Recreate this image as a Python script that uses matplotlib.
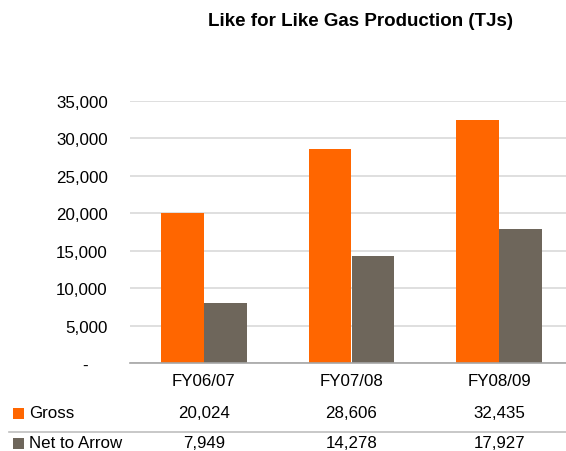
import matplotlib
matplotlib.use("Agg")
import matplotlib.pyplot as plt
from matplotlib.transforms import blended_transform_factory
from matplotlib.lines import Line2D
from matplotlib.patches import Rectangle
import numpy as np

categories = ["FY06/07", "FY07/08", "FY08/09"]
gross = [20024, 28606, 32435]
net_to_arrow = [7949, 14278, 17927]
series_names = ["Gross", "Net to Arrow"]
yticks = [0, 5000, 10000, 15000, 20000, 25000, 30000, 35000]
title = "Like for Like Gas Production (TJs)"

c_gross = "#FF6600"
c_net = "#6E665B"

plt.rcParams['font.family'] = ['Liberation Sans', 'DejaVu Sans']

W, H = 566, 452
fig = plt.figure(figsize=(W / 100, H / 100), dpi=100)

def fy(py):
    return 1 - py / H

left_px, right_px, top_px, bot_px = 130, 573, 102, 364
ax = fig.add_axes([left_px / W, fy(bot_px), (right_px - left_px) / W, (bot_px - top_px) / H])

x = np.arange(len(categories))
bw = 0.29
ax.bar(x - bw / 2, gross, width=bw, color=c_gross, zorder=3)
ax.bar(x + bw / 2, net_to_arrow, width=bw, color=c_net, zorder=3)

ax.set_xlim(-0.5, len(categories) - 0.5)
ax.set_ylim(0, 35000)
ax.set_yticks(yticks)
ax.set_yticklabels(["-    " if v == 0 else f"{v:,}" for v in yticks], fontsize=12.2)
ax.tick_params(axis='y', length=0, pad=16)
ax.set_xticks([])

ax.grid(axis='y', color="#D9D9D9", linewidth=1.2, zorder=0)
for s in ["top", "right", "left"]:
    ax.spines[s].set_visible(False)
ax.spines["bottom"].set_color("#A6A6A6")
ax.spines["bottom"].set_linewidth(1.2)
ax.spines["bottom"].set_zorder(4)

fig.text(361 / W, fy(21), title, fontsize=13.5, fontweight='bold', ha='center', va='center')

tr = blended_transform_factory(ax.transData, fig.transFigure)
fs = 12.2
for i, c in enumerate(categories):
    fig.text(x[i], fy(382), c, transform=tr, ha='center', va='center', fontsize=fs)
    fig.text(x[i], fy(414), f"{gross[i]:,}", transform=tr, ha='center', va='center', fontsize=fs)
    fig.text(x[i], fy(444), f"{net_to_arrow[i]:,}", transform=tr, ha='center', va='center', fontsize=fs)

row_y = [414, 444]
cols = [c_gross, c_net]
for name, ry, col in zip(series_names, row_y, cols):
    fig.patches.append(Rectangle((13 / W, fy(ry + 6)), 11 / W, 11 / H, transform=fig.transFigure,
                                 facecolor=col, edgecolor='none'))
    fig.text(29 / W, fy(ry), name, ha='left', va='center', fontsize=fs)

fig.lines.append(Line2D([9 / W, 1.0], [fy(433), fy(433)], transform=fig.transFigure,
                        color="#BFBFBF", linewidth=1.2))

fig.savefig("out.png", dpi=100, facecolor='white')
